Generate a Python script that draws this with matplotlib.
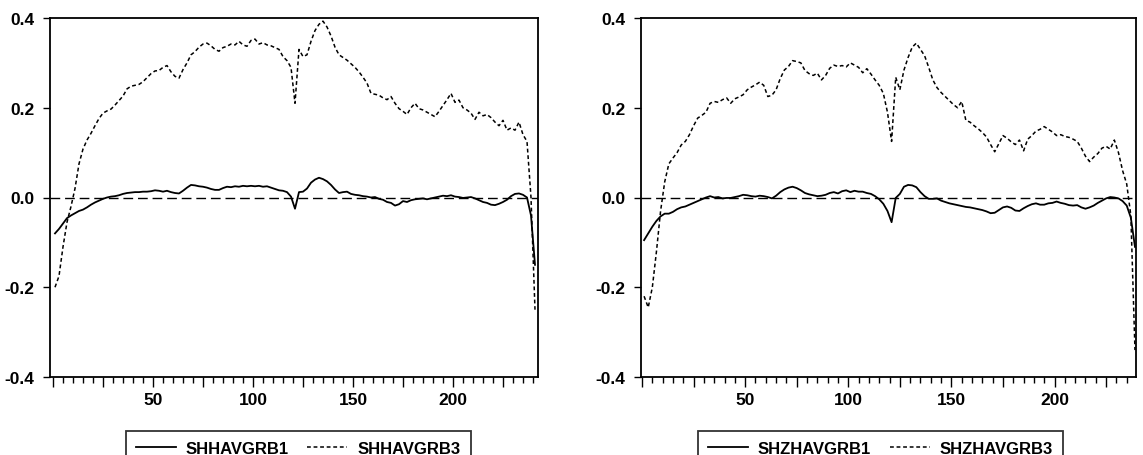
import matplotlib
matplotlib.use("Agg")
import matplotlib.pyplot as plt
import numpy as np
from matplotlib.ticker import MultipleLocator, FuncFormatter

plt.rcParams['font.family'] = ['Liberation Sans', 'DejaVu Sans']
plt.rcParams['font.weight'] = 'bold'
plt.rcParams['axes.unicode_minus'] = False

obs_left = np.arange(1, 242, 2)
obs_right = np.arange(1, 240, 2)

shh_grb1 = [
    -0.080, -0.070, -0.058, -0.046, -0.040, -0.035, -0.030, -0.027, -0.022, -0.016,
    -0.011, -0.007, -0.003, 0.000, 0.002, 0.003, 0.005, 0.008, 0.010, 0.011,
    0.012, 0.012, 0.013, 0.013, 0.014, 0.016, 0.015, 0.013, 0.015, 0.012,
    0.010, 0.009, 0.015, 0.022, 0.028, 0.027, 0.025, 0.024, 0.022, 0.019,
    0.017, 0.017, 0.021, 0.024, 0.023, 0.025, 0.024, 0.026, 0.025, 0.026,
    0.025, 0.026, 0.024, 0.025, 0.022, 0.019, 0.016, 0.015, 0.012, 0.002,
    -0.025, 0.012, 0.013, 0.020, 0.033, 0.040, 0.044, 0.041, 0.036, 0.028,
    0.018, 0.010, 0.012, 0.013, 0.008, 0.006, 0.005, 0.003, 0.002, 0.000,
    0.001, -0.003, -0.005, -0.010, -0.012, -0.018, -0.015, -0.008, -0.010, -0.006,
    -0.004, -0.003, -0.002, -0.004, -0.002, 0.000, 0.002, 0.004, 0.003, 0.005,
    0.002, 0.001, -0.001, 0.000, 0.001, -0.002, -0.006, -0.010, -0.012, -0.016,
    -0.017, -0.014, -0.010, -0.005, 0.003, 0.008, 0.009, 0.006, 0.000, -0.040,
    -0.150]

shh_grb3 = [
    -0.200, -0.175, -0.110, -0.055, -0.020, 0.020, 0.075, 0.108, 0.128, 0.143,
    0.160, 0.176, 0.188, 0.193, 0.197, 0.206, 0.216, 0.226, 0.242, 0.248,
    0.250, 0.252, 0.258, 0.267, 0.276, 0.282, 0.283, 0.290, 0.294, 0.280,
    0.270, 0.266, 0.285, 0.300, 0.318, 0.325, 0.335, 0.342, 0.344, 0.338,
    0.330, 0.326, 0.334, 0.337, 0.342, 0.340, 0.348, 0.340, 0.337, 0.350,
    0.353, 0.342, 0.345, 0.340, 0.338, 0.334, 0.330, 0.314, 0.305, 0.290,
    0.210, 0.330, 0.314, 0.318, 0.348, 0.372, 0.386, 0.393, 0.380, 0.360,
    0.335, 0.318, 0.312, 0.306, 0.298, 0.290, 0.280, 0.268, 0.255, 0.232,
    0.230, 0.228, 0.222, 0.218, 0.225, 0.210, 0.198, 0.192, 0.185, 0.200,
    0.210, 0.198, 0.195, 0.190, 0.185, 0.180, 0.192, 0.205, 0.218, 0.232,
    0.212, 0.217, 0.200, 0.195, 0.188, 0.174, 0.190, 0.182, 0.185, 0.178,
    0.168, 0.160, 0.172, 0.150, 0.155, 0.150, 0.168, 0.140, 0.125, 0.000,
    -0.250]

shz_grb1 = [
    -0.095, -0.080, -0.065, -0.052, -0.042, -0.036, -0.036, -0.032, -0.026, -0.022,
    -0.020, -0.016, -0.012, -0.008, -0.004, 0.000, 0.003, 0.000, 0.001, -0.002,
    -0.001, -0.001, 0.001, 0.003, 0.006, 0.005, 0.003, 0.002, 0.004, 0.003,
    0.001, -0.002, 0.004, 0.012, 0.018, 0.022, 0.024, 0.021, 0.016, 0.010,
    0.007, 0.005, 0.003, 0.004, 0.006, 0.010, 0.012, 0.009, 0.014, 0.016,
    0.012, 0.015, 0.013, 0.013, 0.010, 0.008, 0.003, -0.004, -0.014, -0.030,
    -0.055, -0.001, 0.008, 0.024, 0.028, 0.027, 0.023, 0.012, 0.003, -0.003,
    -0.003, -0.002, -0.007, -0.010, -0.013, -0.015, -0.017, -0.019, -0.021, -0.022,
    -0.024, -0.026, -0.028, -0.031, -0.035, -0.034, -0.028, -0.022, -0.020, -0.023,
    -0.029, -0.030, -0.024, -0.019, -0.015, -0.013, -0.016, -0.016, -0.013, -0.012,
    -0.009, -0.012, -0.014, -0.017, -0.018, -0.017, -0.022, -0.025, -0.022, -0.018,
    -0.012, -0.007, -0.002, 0.001, 0.000, -0.002, -0.008, -0.018, -0.045, -0.110]

shz_grb3 = [
    -0.220, -0.245, -0.200, -0.120, -0.030, 0.035, 0.075, 0.088, 0.100, 0.117,
    0.125, 0.140, 0.160, 0.177, 0.183, 0.190, 0.210, 0.214, 0.212, 0.218,
    0.222, 0.210, 0.220, 0.224, 0.229, 0.240, 0.246, 0.251, 0.257, 0.250,
    0.225, 0.228, 0.240, 0.265, 0.284, 0.292, 0.305, 0.303, 0.300, 0.283,
    0.276, 0.272, 0.277, 0.262, 0.272, 0.288, 0.295, 0.292, 0.294, 0.291,
    0.300, 0.295, 0.290, 0.278, 0.287, 0.275, 0.262, 0.250, 0.232, 0.190,
    0.125, 0.268, 0.240, 0.284, 0.312, 0.335, 0.344, 0.330, 0.316, 0.290,
    0.262, 0.245, 0.234, 0.225, 0.216, 0.207, 0.200, 0.214, 0.172, 0.168,
    0.160, 0.153, 0.145, 0.135, 0.118, 0.102, 0.120, 0.138, 0.132, 0.124,
    0.118, 0.128, 0.104, 0.130, 0.138, 0.148, 0.152, 0.158, 0.152, 0.146,
    0.138, 0.140, 0.136, 0.134, 0.130, 0.125, 0.110, 0.092, 0.080, 0.090,
    0.098, 0.110, 0.114, 0.108, 0.128, 0.100, 0.060, 0.030, -0.040, -0.340]

panels = [
    (obs_left, shh_grb1, shh_grb3, 'SHHAVGRB1', 'SHHAVGRB3', (-1.5, 242.5)),
    (obs_right, shz_grb1, shz_grb3, 'SHZHAVGRB1', 'SHZHAVGRB3', (-0.5, 239.5)),
]

W, H = 1143, 456
fig = plt.figure(figsize=(W / 100, H / 100), dpi=100)

# pixel boxes: left, right, top, bottom ; legend anchor x
boxes = [(50, 538, 19, 378, 126), (641, 1136, 19, 378, 698)]


def fmt_x(v, pos):
    return '%d' % v if v % 50 == 0 and v > 0 else ''


for (x, s1, s3, lab1, lab3, xl), (l, r, t, b, legx) in zip(panels, boxes):
    ax = fig.add_axes([l / W, 1 - b / H, (r - l) / W, (b - t) / H])
    ln1, = ax.plot(x, s1, color='black', lw=1.3, label=lab1)
    ln3, = ax.plot(x, s3, color='black', lw=1.1, ls=(0, (2.5, 1.8)), label=lab3)
    ax.axhline(0, color='black', lw=1.0, ls=(0, (7, 3.5)), zorder=1)
    ax.set_xlim(*xl)
    ax.set_ylim(-0.4, 0.4)
    ax.yaxis.set_major_locator(MultipleLocator(0.2))
    ax.yaxis.set_major_formatter(FuncFormatter(lambda v, p: '%.1f' % v))
    ax.xaxis.set_major_locator(MultipleLocator(25))
    ax.xaxis.set_minor_locator(MultipleLocator(5))
    ax.xaxis.set_major_formatter(FuncFormatter(fmt_x))
    ax.tick_params(axis='x', which='major', length=7, width=1, direction='out', labelsize=12.5, pad=4)
    ax.tick_params(axis='x', which='minor', length=4, width=1, direction='out')
    ax.tick_params(axis='y', which='major', length=5, width=1, direction='out', labelsize=12.5, pad=6)
    for sp in ax.spines.values():
        sp.set_linewidth(1.3)
    leg = ax.legend(handles=[ln1, ln3], ncol=2, loc='upper left',
                    bbox_to_anchor=(legx / W, 1 - 432 / H), bbox_transform=fig.transFigure,
                    frameon=True, fancybox=False, edgecolor='black',
                    prop={'size': 12, 'weight': 'bold'},
                    handlelength=2.4, columnspacing=1.1, handletextpad=0.6,
                    borderpad=0.6, borderaxespad=0)
    leg.get_frame().set_linewidth(1.3)

fig.savefig('out.png', dpi=100)
